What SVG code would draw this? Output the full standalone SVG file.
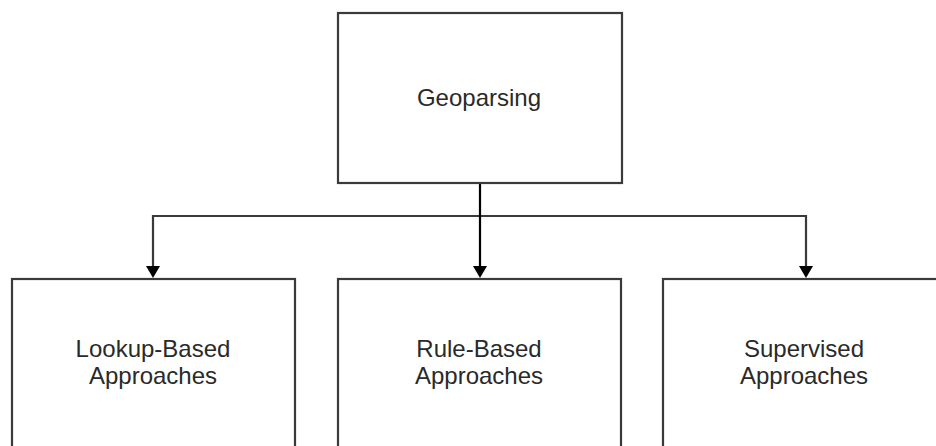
<svg xmlns="http://www.w3.org/2000/svg" width="936" height="446" viewBox="0 0 936 446">
  <style>
    .box { fill: #ffffff; stroke: #3a3a3a; stroke-width: 2.2; }
    .label { font-family: "Liberation Sans", Arial, sans-serif; font-size: 24px; fill: #2a2a2a; text-anchor: middle; }
    .wire { fill: none; stroke: #3a3a3a; stroke-width: 2.2; }
    .wire-main { fill: none; stroke: #000000; stroke-width: 2.2; }
  </style>
  <defs>
    <marker id="arrow" viewBox="0 0 14 12" refX="7" refY="12" markerWidth="14" markerHeight="12" markerUnits="userSpaceOnUse" orient="auto-start-reverse">
      <path d="M0,0 L14,0 L7,12 Z" fill="#000000"/>
    </marker>
  </defs>
  <rect width="936" height="446" fill="#ffffff"/>

  <g id="connectors">
    <path class="wire" d="M480,216 H153 V266"/>
    <path class="wire" d="M480,216 H806 V266"/>
    <line class="wire-main" x1="480" y1="183" x2="480" y2="266"/>
    <path d="M146,266 H160 L153,278 Z" fill="#000"/>
    <path d="M473,266 H487 L480,278 Z" fill="#000"/>
    <path d="M799,266 H813 L806,278 Z" fill="#000"/>
  </g>

  <g id="geoparsing">
    <rect class="box" x="338" y="13" width="284" height="170"/>
    <text class="label" x="479" y="106">Geoparsing</text>
  </g>

  <g id="lookup-based">
    <rect class="box" x="12" y="279" width="283" height="180"/>
    <text class="label" x="153" y="357">Lookup-Based</text>
    <text class="label" x="153" y="384">Approaches</text>
  </g>

  <g id="rule-based">
    <rect class="box" x="338" y="279" width="283" height="180"/>
    <text class="label" x="479" y="357">Rule-Based</text>
    <text class="label" x="479" y="384">Approaches</text>
  </g>

  <g id="supervised">
    <rect class="box" x="663" y="279" width="283" height="180"/>
    <text class="label" x="804" y="357">Supervised</text>
    <text class="label" x="804" y="384">Approaches</text>
  </g>
</svg>
